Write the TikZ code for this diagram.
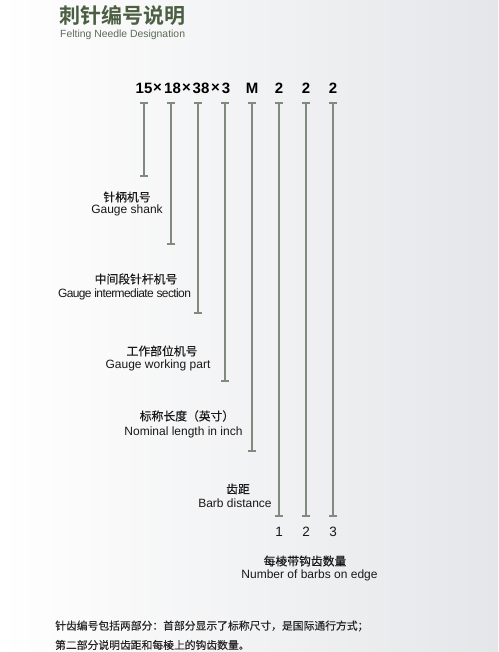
\documentclass[tikz,border=0pt]{standalone}
\usepackage{fontspec}
\setmainfont{Liberation Sans}
\newfontfamily\cjk[FakeBold=0.3]{Noto Sans CJK SC}
\newfontfamily\cjkb{Noto Sans CJK SC Bold}
\definecolor{titlegreen}{HTML}{4B5E42}
\definecolor{subgreen}{HTML}{5C6B56}
\definecolor{linegray}{HTML}{808A7E}
\definecolor{bgright}{HTML}{E5E6E9}
\begin{document}
\begin{tikzpicture}[x=1pt,y=-1pt,
  lbl/.style={inner sep=0pt, anchor=center, text=black!90},
  cn/.style={lbl, font=\cjk\fontsize{11.8}{13}\selectfont},
  en/.style={lbl, font=\fontsize{12}{14}\selectfont},
  num/.style={lbl, text=black, font=\bfseries\fontsize{15}{17}\selectfont},
  idx/.style={lbl, font=\fontsize{13.5}{15}\selectfont},
  gauge/.style={draw=linegray, line width=1.2pt},
  tick/.style={draw=linegray, line width=1.2pt},
]
\useasboundingbox (0,0) rectangle (498,652);
\shade[left color=white, right color=bgright] (0,0) rectangle (498,652);

% title
\node[inner sep=0pt, anchor=west, text=titlegreen, font=\cjkb\fontsize{21}{23}\selectfont] (title) at (59,16) {刺针编号说明};
\node[inner sep=0pt, anchor=west, text=subgreen, font=\fontsize{10.4}{12}\selectfont] (sub) at (60,35) {Felting Needle Designation};

% designation
\node[num] (n1) at (144,88) {15};
\node[num] (x1) at (157.5,88) {×};
\node[num] (n2) at (172.5,88) {18};
\node[num] (x2) at (186.5,88) {×};
\node[num] (n3) at (201,88) {38};
\node[num] (x3) at (215.5,88) {×};
\node[num] (n4) at (226,88) {3};
\node[num] (n5) at (252,88) {M};
\node[num] (n6) at (279,88) {2};
\node[num] (n7) at (306,88) {2};
\node[num] (n8) at (333,88) {2};

% gauge lines
\foreach \i/\x/\y in {1/144/176, 2/171/244, 3/198/313, 4/225/381, 5/252/451, 6/279/516, 7/306/516, 8/333/516}{
  \coordinate (t\i) at (\x,103);
  \coordinate (b\i) at (\x,\y);
  \draw[gauge] (t\i) -- (b\i);
  \draw[tick] ([xshift=-4pt]t\i) -- ([xshift=4pt]t\i);
  \draw[tick] ([xshift=-4pt]b\i) -- ([xshift=4pt]b\i);
}

% labels
\node[cn] (c1) at (127,197) {针柄机号};
\node[en] (e1) at (127,210) {Gauge shank};
\node[cn] (c2) at (136,279) {中间段针杆机号};
\node[en, font=\fontsize{12}{14}\selectfont\addfontfeatures{LetterSpace=-5}] (e2) at (124.5,294) {Gauge intermediate section};
\node[cn] (c3) at (162,351) {工作部位机号};
\node[en] (e3) at (158,365) {Gauge working part};
\node[cn] (c4) at (187,416) {标称长度（英寸）};
\node[en] (e4) at (183.5,432) {Nominal length in inch};
\node[cn] (c5) at (238,489) {齿距};
\node[en] (e5) at (235,503) {Barb distance};
\node[idx] (i1) at (279,532) {1};
\node[idx] (i2) at (306,532) {2};
\node[idx] (i3) at (333,532) {3};
\node[cn] (c6) at (305,561) {每棱带钩齿数量};
\node[en] (e6) at (309.5,575) {Number of barbs on edge};

% note
\node[inner sep=0pt, anchor=west, text=black!85, font=\cjk\fontsize{10.8}{12}\selectfont] (note1) at (55,626) {针齿编号包括两部分：首部分显示了标称尺寸，是国际通行方式；};
\node[inner sep=0pt, anchor=west, text=black!85, font=\cjk\fontsize{10.8}{12}\selectfont] (note2) at (55,645) {第二部分说明齿距和每棱上的钩齿数量。};
\end{tikzpicture}
\end{document}
